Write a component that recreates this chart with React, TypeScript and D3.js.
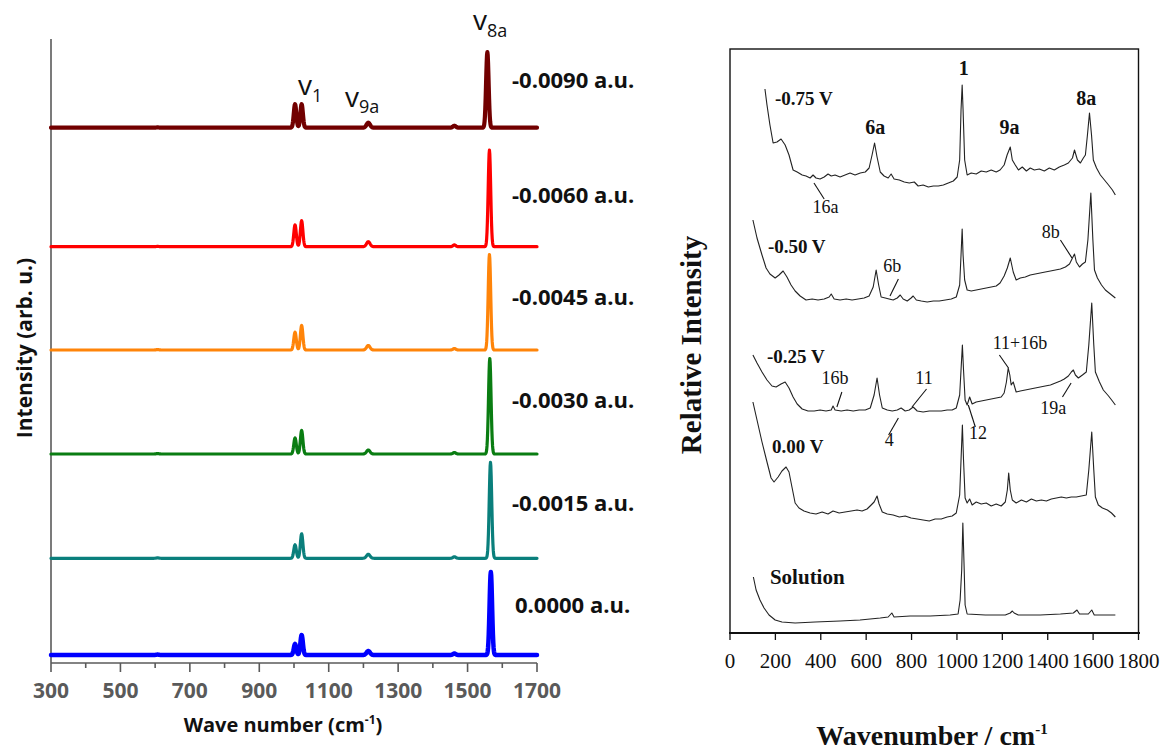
import React from "react";
import * as d3 from "d3";

// ---------------- Left panel data (calculated spectra) ----------------
const leftLabels = ["0.0000 a.u.", "-0.0015 a.u.", "-0.0030 a.u.", "-0.0045 a.u.", "-0.0060 a.u.", "-0.0090 a.u."];
const leftColors = ["#0000FF", "#0A7F7C", "#0A7D12", "#FF8409", "#FF0000", "#720000"];
const leftWidths = [4.5, 3.2, 3.2, 3.2, 3.2, 4.2];
const leftOffsets = [0, 0.967, 2.01, 3.05, 4.083, 5.273];
const leftLabelLift = [0.5, 0.55, 0.54, 0.533, 0.52, 0.48];
const v8aCenters = [1567, 1566, 1564, 1563, 1563, 1557];
const v8aHeights = [0.83, 0.96, 0.955, 0.955, 0.965, 0.755];
const v1aCenter = 1003;
const v1bCenter = 1022;
const v1aHeights = [0.11, 0.135, 0.16, 0.178, 0.218, 0.235];
const v1bHeights = [0.2, 0.245, 0.235, 0.245, 0.26, 0.235];
const v9aCenter = 1214;
const v9aHeights = [0.04, 0.04, 0.04, 0.045, 0.05, 0.05];
const m1462Center = 1462;
const m1462Heights = [0.015, 0.015, 0.015, 0.015, 0.018, 0.02];
const m607Center = 607;
const m607Heights = [0.004, 0.004, 0.004, 0.004, 0.003, 0.003];
const leftTicks = [300, 400, 500, 600, 700, 800, 900, 1000, 1100, 1200, 1300, 1400, 1500, 1600, 1700];
const leftTickLabels = [300, 500, 700, 900, 1100, 1300, 1500, 1700];

// ---------------- Right panel data (measured SERS spectra) ----------------
const rightLabels = ["-0.75 V", "-0.50 V", "-0.25 V", "0.00 V", "Solution"];
const spec075: [number, number][] = [
  [154, 544], [163, 528], [176, 508], [190, 490], [207, 491], [225, 494], [243, 488], [260, 478], [278, 463], [296, 461],
  [318, 458], [335, 457], [353, 455], [366, 458], [379, 455], [397, 454], [415, 456], [432, 459], [446, 457], [463, 458],
  [485, 456], [507, 458], [529, 460], [551, 458], [574, 460], [596, 461], [613, 465], [626, 478], [637, 490], [648, 476],
  [662, 461], [679, 457], [697, 455], [710, 459], [723, 454], [746, 453], [768, 451], [790, 450], [812, 451], [829, 447],
  [851, 448], [874, 446], [896, 447], [918, 447], [940, 448], [962, 450], [984, 452], [1001, 456], [1012, 473], [1018, 523],
  [1023, 548], [1027, 523], [1034, 473], [1045, 458], [1063, 460], [1085, 459], [1107, 462], [1129, 461], [1151, 463], [1173, 461],
  [1190, 463], [1208, 468], [1221, 478], [1235, 486], [1244, 473], [1257, 468], [1271, 463], [1288, 466], [1306, 462], [1323, 465],
  [1341, 463], [1363, 464], [1385, 462], [1407, 465], [1429, 463], [1451, 466], [1473, 468], [1491, 470], [1509, 475], [1518, 483],
  [1531, 473], [1544, 470], [1557, 475], [1566, 478], [1575, 498], [1584, 520], [1593, 498], [1601, 473], [1615, 465], [1632, 458],
  [1650, 453], [1668, 448], [1685, 443], [1698, 438],
];
const spec050: [number, number][] = [
  [101, 413], [119, 395], [141, 378], [159, 365], [176, 359], [199, 355], [216, 358], [234, 362], [251, 356], [269, 348],
  [287, 342], [309, 337], [335, 333], [362, 334], [388, 333], [415, 334], [437, 336], [446, 339], [459, 334], [485, 333],
  [512, 334], [538, 333], [565, 334], [591, 335], [613, 337], [631, 346], [644, 363], [655, 348], [666, 336], [684, 335],
  [701, 334], [719, 333], [737, 335], [750, 338], [763, 334], [781, 332], [798, 335], [807, 337], [821, 333], [843, 332],
  [869, 331], [896, 332], [922, 332], [949, 333], [975, 334], [997, 336], [1012, 348], [1018, 378], [1023, 404], [1027, 378],
  [1034, 353], [1045, 343], [1063, 342], [1085, 343], [1107, 344], [1129, 345], [1151, 346], [1173, 347], [1190, 350], [1208, 357],
  [1222, 365], [1235, 375], [1248, 361], [1261, 353], [1279, 355], [1301, 356], [1323, 358], [1345, 359], [1367, 360], [1389, 361],
  [1412, 362], [1434, 363], [1456, 364], [1478, 366], [1496, 369], [1509, 375], [1518, 379], [1526, 371], [1540, 366], [1553, 369],
  [1566, 371], [1577, 393], [1590, 440], [1599, 393], [1606, 363], [1619, 355], [1637, 348], [1654, 343], [1676, 339], [1698, 335],
];
const spec025: [number, number][] = [
  [101, 278], [119, 270], [141, 261], [163, 253], [185, 247], [203, 246], [225, 249], [243, 251], [260, 245], [278, 236],
  [296, 229], [318, 224], [344, 222], [371, 222], [397, 223], [423, 222], [446, 223], [454, 227], [463, 223], [490, 222],
  [516, 223], [543, 222], [569, 223], [596, 223], [618, 225], [635, 238], [648, 255], [659, 238], [671, 225], [693, 223],
  [715, 222], [737, 223], [754, 225], [772, 222], [790, 223], [807, 226], [825, 222], [851, 221], [878, 222], [904, 222],
  [931, 222], [957, 223], [979, 223], [997, 225], [1012, 238], [1018, 263], [1024, 288], [1029, 263], [1036, 233], [1045, 228],
  [1056, 236], [1067, 229], [1085, 231], [1107, 232], [1129, 233], [1151, 234], [1173, 235], [1195, 236], [1208, 240], [1218, 251],
  [1226, 265], [1233, 258], [1239, 248], [1248, 251], [1261, 241], [1279, 242], [1301, 243], [1323, 244], [1345, 245], [1367, 246],
  [1389, 247], [1412, 248], [1434, 250], [1456, 252], [1473, 254], [1491, 257], [1504, 261], [1513, 263], [1522, 258], [1535, 255],
  [1553, 258], [1570, 261], [1581, 288], [1594, 330], [1603, 288], [1610, 261], [1628, 251], [1645, 243], [1668, 237], [1685, 232],
  [1698, 228],
];
const spec000: [number, number][] = [
  [101, 231], [119, 213], [141, 191], [163, 171], [181, 155], [194, 151], [212, 156], [229, 162], [247, 166], [260, 161],
  [273, 146], [287, 130], [304, 125], [326, 122], [353, 120], [379, 119], [406, 121], [432, 119], [454, 122], [481, 120],
  [507, 121], [534, 122], [560, 123], [582, 122], [604, 124], [622, 128], [635, 131], [648, 137], [657, 129], [671, 121],
  [693, 119], [719, 118], [746, 116], [772, 117], [798, 115], [825, 114], [851, 113], [878, 112], [904, 114], [931, 114],
  [957, 116], [979, 117], [997, 120], [1012, 138], [1018, 173], [1024, 208], [1029, 173], [1036, 135], [1045, 130], [1056, 134],
  [1067, 128], [1085, 131], [1107, 129], [1129, 130], [1151, 127], [1173, 129], [1195, 127], [1213, 131], [1222, 143], [1228, 160],
  [1235, 143], [1244, 133], [1261, 130], [1284, 133], [1306, 131], [1328, 134], [1350, 132], [1372, 133], [1394, 132], [1416, 134],
  [1438, 135], [1460, 136], [1482, 135], [1504, 136], [1526, 136], [1548, 137], [1570, 138], [1581, 163], [1594, 201], [1603, 163],
  [1610, 136], [1623, 128], [1641, 125], [1663, 123], [1681, 120], [1698, 116],
];
const specSolution: [number, number][] = [
  [103, 56], [115, 43], [132, 33], [150, 25], [172, 18], [199, 13], [229, 11], [287, 10], [375, 11], [485, 12],
  [573, 13], [662, 15], [697, 16], [713, 20], [723, 16], [794, 17], [882, 17], [970, 18], [1005, 19], [1014, 33],
  [1021, 63], [1026, 110], [1032, 63], [1036, 28], [1045, 19], [1125, 18], [1213, 18], [1235, 20], [1244, 22], [1252, 20],
  [1270, 18], [1367, 18], [1456, 19], [1513, 20], [1529, 23], [1540, 19], [1579, 19], [1594, 23], [1605, 18], [1654, 18],
  [1698, 18],
];
const rightSpectra = [spec075, spec050, spec025, spec000, specSolution];
const rightTicks = [0, 200, 400, 600, 800, 1000, 1200, 1400, 1600, 1800];

// annotation labels [text, wavenumber, intensity] and leader lines
const rightLabelAnchors: [number, number][] = [
  [198, 528], [167, 380], [163, 270], [185, 180], [176, 49],
];
const peakLabelsBold: [string, number, number][] = [
  ["6a", 640, 499], ["1", 1030, 558], ["9a", 1232, 499], ["8a", 1570, 528],
];
const peakLabelsThin: [string, number, number][] = [
  ["16a", 421, 420], ["6b", 715, 361], ["8b", 1413, 395], ["16b", 463, 249], ["11", 855, 249],
  ["4", 702, 187], ["12", 1093, 194], ["11+16b", 1278, 284], ["19a", 1424, 219],
];
const leaders: [number, number, number, number][] = [
  [370, 450, 415, 434], [742, 354, 705, 337], [1456, 393, 1507, 375], [493, 241, 471, 226],
  [866, 244, 802, 226], [742, 215, 699, 198], [1050, 228, 1081, 206], [1187, 278, 1227, 265], [1503, 250, 1465, 236],
];

const W = 1166;
const H = 751;

export default function App() {
  // Left scales
  const xL = d3.scaleLinear().domain([300, 1700]).range([51, 537]);
  const yL = d3.scaleLinear().domain([-0.08, 6.16]).range([663, 39]);
  const wns = d3.range(300, 1700.01, 1);
  const g = (w: number, c: number, h: number, s: number) => h * Math.exp(-((w - c) ** 2) / (2 * s * s));
  const lineL = d3
    .line<[number, number]>()
    .x((d) => xL(d[0]))
    .y((d) => yL(d[1]));
  const leftPaths = leftLabels.map((_, i) => {
    const pts: [number, number][] = wns.map((w) => [
      w,
      leftOffsets[i] +
        g(w, v8aCenters[i], v8aHeights[i], 3.6) +
        g(w, v1aCenter, v1aHeights[i], 3.6) +
        g(w, v1bCenter, v1bHeights[i], 3.6) +
        g(w, v9aCenter, v9aHeights[i], 5) +
        g(w, m1462Center, m1462Heights[i], 4) +
        g(w, m607Center, m607Heights[i], 4),
    ]);
    return lineL(pts) as string;
  });
  const axisGray = "#5a5a5a";

  // Right scales
  const xR = d3.scaleLinear().domain([0, 1800]).range([730, 1138.5]);
  const yR = d3.scaleLinear().domain([0, 584]).range([633, 49]);
  const lineR = d3
    .line<[number, number]>()
    .x((d) => xR(d[0]))
    .y((d) => yR(d[1]));
  const serif = "'Liberation Serif', 'Times New Roman', serif";
  const sans = "'Open Sans', 'Noto Sans', sans-serif";

  return (
    <svg width={W} height={H} style={{ position: "absolute", left: 0, top: 0, background: "#fff" }}>
      <rect x={0} y={0} width={W} height={H} fill="#fff" />
      {/* ---------- LEFT PANEL ---------- */}
      <line x1={xL(300)} x2={xL(300)} y1={39} y2={yL(-0.08)} stroke={axisGray} strokeWidth={1.6} />
      <line x1={xL(300)} x2={xL(1700)} y1={yL(-0.08)} y2={yL(-0.08)} stroke={axisGray} strokeWidth={1.6} />
      {leftTicks.map((t) => (
        <line
          key={t}
          x1={xL(t)}
          x2={xL(t)}
          y1={yL(-0.08)}
          y2={yL(-0.08) + (leftTickLabels.includes(t) ? 9 : 5)}
          stroke={axisGray}
          strokeWidth={1.6}
        />
      ))}
      {leftTickLabels.map((t) => (
        <text
          key={t}
          x={xL(t)}
          y={697.5}
          textAnchor="middle"
          fontFamily={sans}
          fontWeight={700}
          fontSize={21}
          fill={axisGray}
        >
          {t}
        </text>
      ))}
      <text x={283} y={732} textAnchor="middle" fontFamily={sans} fontWeight={700} fontSize={20} fill="#111">
        Wave number (cm
        <tspan dy={-8} fontSize={12}>
          -1
        </tspan>
        <tspan dy={8}>)</tspan>
      </text>
      <text
        transform={`translate(32,348) rotate(-90)`}
        textAnchor="middle"
        fontFamily={sans}
        fontWeight={700}
        fontSize={21}
        fill="#111"
      >
        Intensity (arb. u.)
      </text>
      {leftPaths.map((p, i) => (
        <path
          key={i}
          d={p}
          fill="none"
          stroke={leftColors[i]}
          strokeWidth={leftWidths[i]}
          strokeLinejoin="round"
          strokeLinecap="round"
        />
      ))}
      {leftLabels.map((l, i) => (
        <text
          key={l}
          x={i === 0 ? 515 : 512}
          y={yL(leftOffsets[i] + leftLabelLift[i]) + 8}
          fontFamily={sans}
          fontWeight={700}
          fontSize={22}
          fill="#111"
        >
          {l}
        </text>
      ))}
      {/* vibrational mode labels */}
      <text x={298} y={95} fontFamily={sans} fontSize={28} fill="#111">
        v<tspan dy={7} fontSize={18}>1</tspan>
      </text>
      <text x={345} y={107} fontFamily={sans} fontSize={28} fill="#111">
        v<tspan dy={6} fontSize={18}>9a</tspan>
      </text>
      <text x={473} y={30} fontFamily={sans} fontSize={28} fill="#111">
        v<tspan dy={7} fontSize={18}>8a</tspan>
      </text>

      {/* ---------- RIGHT PANEL ---------- */}
      <rect x={730} y={49} width={408.5} height={584} fill="none" stroke="#111" strokeWidth={1.4} />
      <line x1={729} x2={1140} y1={633} y2={633} stroke="#111" strokeWidth={2} />
      {rightTicks.map((t) => (
        <g key={t}>
          <line x1={xR(t)} x2={xR(t)} y1={633} y2={640} stroke="#111" strokeWidth={1.3} />
          <text x={xR(t)} y={667.5} textAnchor="middle" fontFamily={serif} fontSize={21} fill="#111">
            {t}
          </text>
        </g>
      ))}
      <text x={932} y={745} textAnchor="middle" fontFamily={serif} fontWeight={700} fontSize={28} fill="#111">
        Wavenumber / cm
        <tspan dy={-11} fontSize={15}>
          -1
        </tspan>
      </text>
      <text
        transform={`translate(701,345) rotate(-90)`}
        textAnchor="middle"
        fontFamily={serif}
        fontWeight={700}
        fontSize={29}
        fill="#111"
      >
        Relative Intensity
      </text>
      {rightSpectra.map((s, i) => (
        <path key={i} d={lineR(s) as string} fill="none" stroke="#222" strokeWidth={1.1} strokeLinejoin="round" />
      ))}
      {rightLabels.map((l, i) => (
        <text
          key={l}
          x={xR(rightLabelAnchors[i][0])}
          y={yR(rightLabelAnchors[i][1])}
          fontFamily={serif}
          fontWeight={700}
          fontSize={i === 4 ? 21 : 19}
          fill="#111"
        >
          {l}
        </text>
      ))}
      {peakLabelsBold.map(([t, w, v]) => (
        <text
          key={t}
          x={xR(w)}
          y={yR(v)}
          textAnchor="middle"
          fontFamily={serif}
          fontWeight={700}
          fontSize={20}
          fill="#111"
        >
          {t}
        </text>
      ))}
      {peakLabelsThin.map(([t, w, v]) => (
        <text key={t} x={xR(w)} y={yR(v)} textAnchor="middle" fontFamily={serif} fontSize={18} fill="#111">
          {t}
        </text>
      ))}
      {leaders.map(([w1, v1, w2, v2], i) => (
        <line key={i} x1={xR(w1)} y1={yR(v1)} x2={xR(w2)} y2={yR(v2)} stroke="#111" strokeWidth={1.1} />
      ))}
    </svg>
  );
}
